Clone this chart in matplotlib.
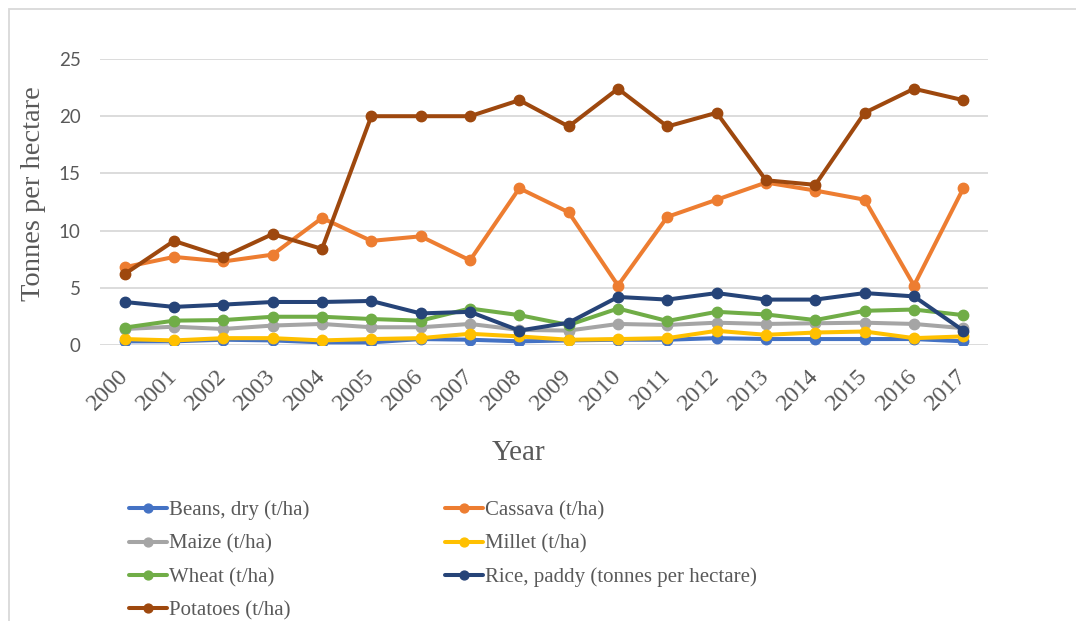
import matplotlib
matplotlib.use("Agg")
import matplotlib.pyplot as plt
from matplotlib.patches import Rectangle

# values (t/ha)
years = list(range(2000, 2018))
beans = [0.32, 0.32, 0.46, 0.40, 0.23, 0.23, 0.52, 0.46, 0.32, 0.40, 0.46, 0.46, 0.60, 0.52, 0.52, 0.52, 0.52, 0.32]
cassava = [6.8, 7.7, 7.3, 7.9, 11.1, 9.1, 9.5, 7.4, 13.7, 11.6, 5.2, 11.2, 12.7, 14.2, 13.5, 12.7, 5.2, 13.7]
maize = [1.4, 1.6, 1.4, 1.7, 1.84, 1.55, 1.55, 1.84, 1.32, 1.26, 1.84, 1.75, 1.95, 1.84, 1.9, 1.95, 1.84, 1.47]
millet = [0.52, 0.40, 0.60, 0.60, 0.40, 0.52, 0.60, 0.98, 0.75, 0.46, 0.52, 0.60, 1.24, 0.89, 1.09, 1.18, 0.60, 0.75]
wheat = [1.52, 2.13, 2.18, 2.47, 2.47, 2.27, 2.13, 3.19, 2.61, 1.75, 3.19, 2.10, 2.90, 2.67, 2.18, 2.99, 3.10, 2.61]
rice = [3.76, 3.33, 3.53, 3.76, 3.76, 3.85, 2.76, 2.90, 1.26, 1.95, 4.20, 3.97, 4.54, 3.97, 3.97, 4.54, 4.25, 1.26]
potatoes = [6.2, 9.1, 7.7, 9.7, 8.4, 20.0, 20.0, 20.0, 21.4, 19.1, 22.4, 19.1, 20.3, 14.4, 14.0, 20.3, 22.4, 21.4]

names = ["Beans, dry (t/ha)", "Cassava (t/ha)", "Maize (t/ha)", "Millet (t/ha)",
         "Wheat (t/ha)", "Rice, paddy (tonnes per hectare)", "Potatoes (t/ha)"]
series = [beans, cassava, maize, millet, wheat, rice, potatoes]
colors = ["#4472C4", "#ED7D31", "#A5A5A5", "#FFC000", "#70AD47", "#264478", "#9E480E"]

W, H = 1076, 621
fig = plt.figure(figsize=(W / 100, H / 100), dpi=100)
# outer chart border
fig.patches.append(Rectangle((9 / W, -0.1), 1.2, 1 - 9 / H + 0.1, transform=fig.transFigure,
                             fill=False, edgecolor="#D9D9D9", linewidth=1.3))

ax = fig.add_axes([100 / W, 1 - 345 / H, (988 - 100) / W, (345 - 59) / H])

lines = []
for vals, name, c in zip(series, names, colors):
    l, = ax.plot(years, vals, color=c, lw=2.9, marker="o", markersize=7.5,
                 solid_capstyle="round", label=name)
    lines.append(l)

ax.set_xlim(1999.5, 2017.5)
ax.set_ylim(0, 25)
ax.set_yticks([0, 5, 10, 15, 20, 25])
ax.set_xticks(years)
ax.grid(axis="y", color="#D9D9D9", lw=1.3)
ax.set_axisbelow(True)
for s in ax.spines.values():
    s.set_visible(False)
ax.tick_params(length=0)
ax.tick_params(axis="y", pad=14, labelsize=13.5, labelcolor="#595959")
for t in ax.get_yticklabels():
    t.set_fontfamily("Lato")
ax.set_xticklabels([str(y) for y in years], rotation=45, ha="right", va="center",
                   rotation_mode="anchor", fontfamily="Liberation Serif",
                   fontsize=17.5, color="#595959")
ax.tick_params(axis="x", pad=20)

fig.text(34 / W, 1 - 194 / H, "Tonnes per hectare", rotation=90, ha="center", va="center",
         fontfamily="Liberation Serif", fontsize=20.5, color="#595959")
fig.text(519 / W, 1 - 453 / H, "Year", ha="center", va="center",
         fontfamily="Liberation Serif", fontsize=21, color="#595959")

order = [0, 2, 4, 6, 1, 3, 5]
leg = fig.legend([lines[i] for i in order], [names[i] for i in order], ncol=2,
                 loc="upper left", bbox_to_anchor=(110 / W, 1 - 482 / H),
                 frameon=False, handlelength=1.83, handletextpad=0.1,
                 columnspacing=6.5, labelspacing=0.66, markerscale=0.85,
                 prop={"family": "Liberation Serif", "size": 15})
for t in leg.get_texts():
    t.set_color("#595959")

fig.savefig("out.png", dpi=100)
